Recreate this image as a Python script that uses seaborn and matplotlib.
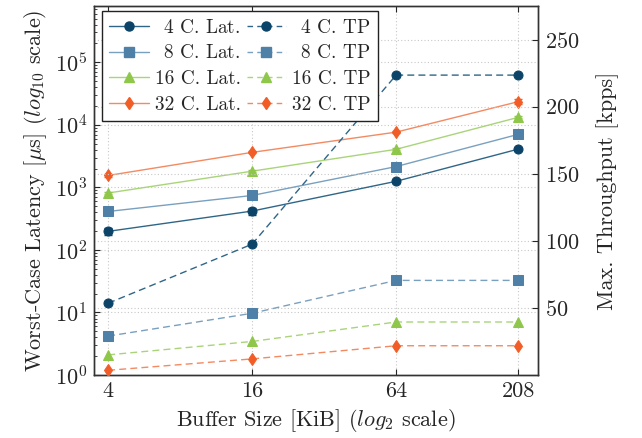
import numpy as np
import pandas as pd
import matplotlib
matplotlib.use("Agg")
import matplotlib.pyplot as plt
import seaborn as sns
from matplotlib.ticker import FixedLocator, NullFormatter, LogLocator

sns.set_style("ticks")
plt.rcParams['font.family'] = ['cmr10', 'DejaVu Serif']
plt.rcParams['mathtext.fontset'] = 'cm'
plt.rcParams['axes.formatter.use_mathtext'] = True
plt.rcParams['axes.unicode_minus'] = False

# ---- data ----
buffer_kib = [4, 16, 64, 208]
cores = ["4", "8", "16", "32"]

lat_4 = [198, 418, 1250, 4100]
lat_8 = [412, 742, 2150, 7060]
lat_16 = [813, 1815, 4060, 13200]
lat_32 = [1550, 3630, 7640, 23500]

lat_err_4 = [25, 50, 60, 150]
lat_err_8 = [15, 30, 80, 250]
lat_err_16 = [30, 60, 150, 500]
lat_err_32 = [60, 120, 300, 2200]

tp_4 = [53.5, 97.5, 223.5, 223.5]
tp_8 = [29.0, 46.0, 70.5, 70.5]
tp_16 = [15.0, 25.0, 39.5, 39.5]
tp_32 = [3.5, 12.0, 21.8, 21.8]

lats = [lat_4, lat_8, lat_16, lat_32]
lat_errs = [lat_err_4, lat_err_8, lat_err_16, lat_err_32]
tps = [tp_4, tp_8, tp_16, tp_32]

colors = ["#0b4468", "#4f80a8", "#8fc74a", "#f25d27"]
line_colors = ["#2f6688", "#7aa0bf", "#a9d47a", "#f38a62"]
markers = ["o", "s", "^", "d"]
msizes = [6.5, 6.5, 6.5, 6]

FS = 16
LFS = 13.9

fig = plt.figure(figsize=(6.42, 4.38), dpi=100)
ax = fig.add_axes([94/642, 1-375/438, (538-94)/642, (375-6)/438])
ax2 = ax.twinx()

lat_handles = []
tp_handles = []
for i, c in enumerate(cores):
    df = pd.DataFrame({"x": buffer_kib, "lat": lats[i], "tp": tps[i]})
    sns.lineplot(data=df, x="x", y="lat", ax=ax, color=line_colors[i], lw=1.0,
                 marker=markers[i], markersize=msizes[i], markerfacecolor=colors[i],
                 markeredgecolor=colors[i], zorder=3)
    ax.errorbar(buffer_kib, lats[i], yerr=lat_errs[i], fmt="none", ecolor=colors[i],
                elinewidth=1.0, capsize=3, capthick=1.0, zorder=3)
    sns.lineplot(data=df, x="x", y="tp", ax=ax2, color=line_colors[i], lw=1.0,
                 marker=markers[i], markersize=msizes[i], markerfacecolor=colors[i],
                 markeredgecolor=colors[i], zorder=3)
    ax2.lines[-1].set_dashes([5, 3])
    lat_handles.append(plt.Line2D([], [], color=line_colors[i], lw=1.0, marker=markers[i],
                                  markersize=msizes[i], markerfacecolor=colors[i],
                                  markeredgecolor=colors[i]))
    tp_handles.append(plt.Line2D([], [], color=line_colors[i], lw=1.0, ls=(0, (4, 3)),
                                 marker=markers[i], markersize=msizes[i],
                                 markerfacecolor=colors[i], markeredgecolor=colors[i]))

# x axis
ax.set_xscale("log", base=2)
ax.set_xlim(3.49, 251)
ax.xaxis.set_major_locator(FixedLocator(buffer_kib))
ax.set_xticklabels([str(b) for b in buffer_kib])
ax.xaxis.set_minor_locator(FixedLocator([]))
ax.set_xlabel(r"Buffer Size [KiB] ($log_2$ scale)", fontsize=FS, labelpad=4)

# left y
ax.set_yscale("log")
ax.set_ylim(1, 10**5.9)
ax.yaxis.set_major_locator(LogLocator(base=10, numticks=10))
ax.yaxis.set_minor_locator(LogLocator(base=10, subs=np.arange(2, 10), numticks=20))
ax.yaxis.set_minor_formatter(NullFormatter())
ax.set_ylabel(r"Worst-Case Latency [$\mu$s] ($log_{10}$ scale)", fontsize=FS, labelpad=4)

# right y
ax2.set_ylim(0, 275)
ax2.set_yticks([50, 100, 150, 200, 250])
ax2.set_ylabel("Max. Throughput [kpps]", fontsize=FS, labelpad=12)

for a in (ax, ax2):
    a.tick_params(axis="both", which="both", direction="in", labelsize=FS, pad=5)
    a.tick_params(which="major", length=4)
    a.tick_params(which="minor", length=2.5)
    for s in a.spines.values():
        s.set_linewidth(1.0)
        s.set_color("#333333")
ax.tick_params(axis="x", top=True)
ax.tick_params(axis="y", which="both", right=False)
ax2.tick_params(axis="y", left=False)

gkw = dict(color="#c8c8c8", ls=(0, (1, 2)), lw=0.8)
ax.grid(True, which="major", axis="both", **gkw)
ax2.grid(True, which="major", axis="y", **gkw)
ax.set_axisbelow(True)
ax2.set_axisbelow(True)

ph = r"$\enspace$"
lat_labels = [ph + "4 C. Lat.", ph + "8 C. Lat.", "16 C. Lat.", "32 C. Lat."]
tp_labels = [ph + "4 C. TP", ph + "8 C. TP", "16 C. TP", "32 C. TP"]
leg = ax2.legend(lat_handles + tp_handles, lat_labels + tp_labels, ncol=2,
                 loc="upper left", bbox_to_anchor=(0.0173, 0.9864), fontsize=LFS,
                 frameon=True, fancybox=False, edgecolor="#222222", framealpha=1,
                 handlelength=2.05, handletextpad=0.3, columnspacing=0.3,
                 labelspacing=0.4, borderpad=0.4, borderaxespad=0.0, numpoints=1)
leg.get_frame().set_linewidth(1.0)

fig.savefig("out.png", dpi=100)
